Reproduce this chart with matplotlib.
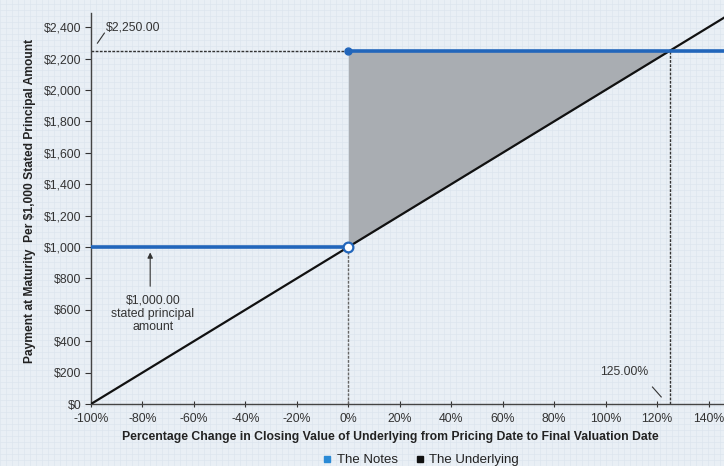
import matplotlib
matplotlib.use("Agg")
import matplotlib.pyplot as plt
import numpy as np
from matplotlib.lines import Line2D

plt.rcParams['font.family'] = ['Liberation Sans', 'DejaVu Sans']

# Data
x_ticks = [-100, -80, -60, -40, -20, 0, 20, 40, 60, 80, 100, 120, 140]
x_ticklabels = ['-100%', '-80%', '-60%', '-40%', '-20%', '0%', '20%', '40%', '60%', '80%', '100%', '120%', '140%']
y_ticks = [0, 200, 400, 600, 800, 1000, 1200, 1400, 1600, 1800, 2000, 2200, 2400]
y_ticklabels = ['$0', '$200', '$400', '$600', '$800', '$1,000', '$1,200', '$1,400', '$1,600', '$1,800', '$2,000', '$2,200', '$2,400']

underlying_x = [-100, 146]
underlying_y = [0, 2460]
notes_low_x = [-100, 0]
notes_low_y = [1000, 1000]
notes_high_x = [0, 146]
notes_high_y = [2250, 2250]
fill_x = [0, 125]
fill_top = [2250, 2250]
fill_bottom = [1000, 2250]
max_payment = 2250
cap_pct = 125

blue = '#2266bb'
bg = '#e9eff5'
txt = '#333333'
fs = 8.8

fig = plt.figure(figsize=(7.24, 4.66), dpi=100)
fig.patch.set_facecolor(bg)

# background texture grid
bgax = fig.add_axes([0, 0, 1, 1], zorder=-10)
bgax.set_xlim(0, 724)
bgax.set_ylim(0, 466)
for v in np.arange(0, 724, 6):
    bgax.axvline(v, color='#dde5ee', lw=0.5)
for v in np.arange(0, 466, 6):
    bgax.axhline(v, color='#dde5ee', lw=0.5)
bgax.axis('off')

ax = fig.add_axes([91/724, 1 - 404/466, (724 - 91)/724, (404 - 13)/466])
ax.set_facecolor('none')
ax.set_xlim(-100, 146)
ax.set_ylim(0, 2490)

ax.fill_between(fill_x, fill_bottom, fill_top, color='#a9adb2', lw=0, zorder=1)
ax.plot(underlying_x, underlying_y, color='#111111', lw=1.6, zorder=3)
ax.plot(notes_low_x, notes_low_y, color=blue, lw=2.6, zorder=4)
ax.plot(notes_high_x, notes_high_y, color=blue, lw=2.6, zorder=4)
ax.plot([0], [2250], 'o', color=blue, ms=5, zorder=6)
ax.plot([0], [1000], 'o', mfc='white', mec=blue, mew=1.6, ms=7, zorder=6)

# dashed guide lines
ax.plot([-100, 0], [max_payment, max_payment], color='#333333', lw=1.0, ls=(0, (2, 1)), zorder=2)
ax.plot([0, 0], [0, 1000], color='#666666', lw=1.0, ls=(0, (2, 1)), zorder=2)
ax.plot([cap_pct, cap_pct], [0, max_payment], color='#333333', lw=1.0, ls=(0, (2, 1)), zorder=2)

# annotations
ax.plot([-97.5, -94.8], [2298, 2362], color=txt, lw=0.8)
ax.text(-94.4, 2400, '$2,250.00', fontsize=fs, color=txt, ha='left', va='center')
ax.plot([118.2, 121.6], [108, 45], color=txt, lw=0.8)
ax.text(107.3, 204, '125.00%', fontsize=fs, color=txt, ha='center', va='center')
ax.annotate('', xy=(-77, 965), xytext=(-77, 750),
            arrowprops=dict(arrowstyle='-|>', color='#333333', lw=0.8, mutation_scale=8, shrinkA=0, shrinkB=0))
ax.text(-76, 573, '$1,000.00\nstated principal\namount', fontsize=fs, color=txt,
        ha='center', va='center', linespacing=1.15)

ax.set_xticks(x_ticks)
ax.set_xticklabels(x_ticklabels)
ax.set_yticks(y_ticks)
ax.set_yticklabels(y_ticklabels)
ax.tick_params(axis='both', labelsize=fs, colors=txt, length=4, width=0.8, pad=3)
ax.tick_params(axis='x', direction='inout', length=5, pad=4)
ax.tick_params(axis='y', direction='out', length=4)

for s in ['top', 'right']:
    ax.spines[s].set_visible(False)
for s in ['left', 'bottom']:
    ax.spines[s].set_color('#444444')
    ax.spines[s].set_linewidth(1.0)

ax.set_xlabel('Percentage Change in Closing Value of Underlying from Pricing Date to Final Valuation Date',
              fontsize=fs, fontweight='bold', color='#222222')
ax.xaxis.set_label_coords((390 - 91) / 633, -(431 - 404) / 391)
ax.set_ylabel('Payment at Maturity  Per $1,000 Stated Principal Amount',
              fontsize=fs * 0.98, fontweight='bold', color='#222222')
ax.yaxis.set_label_coords((36 - 91) / 633, (404 - 201) / 391)

# legend
handles = [Line2D([], [], marker='s', color='none', mfc='#2a8ad6', mec='#2a8ad6', ms=5, label='The Notes'),
           Line2D([], [], marker='s', color='none', mfc='#111111', mec='#111111', ms=5, label='The Underlying')]
fig.legend(handles=handles, loc='center', bbox_to_anchor=(420/724, 1 - 460/466), ncol=2, frameon=False,
           fontsize=9.5, handletextpad=0.2, columnspacing=1.2, handlelength=1.0, labelcolor='#222222')

fig.savefig('out.png', dpi=100, facecolor=bg)
